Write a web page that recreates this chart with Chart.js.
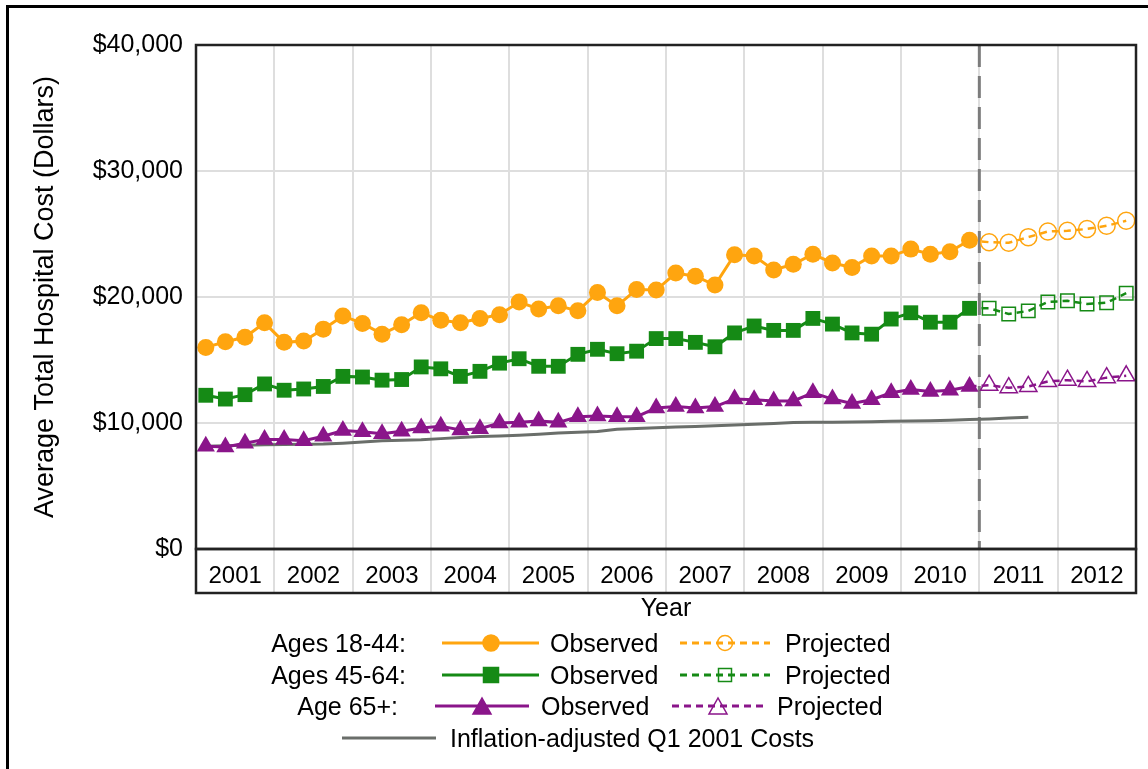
<!DOCTYPE html>
<html>
<head>
<meta charset="utf-8">
<script src="https://cdn.jsdelivr.net/npm/chart.js@4.4.0/dist/chart.umd.min.js"></script>
<style>
  html, body { margin: 0; padding: 0; background: #fff; }
  body { width: 1148px; height: 769px; position: relative; overflow: hidden; font-family: "Liberation Sans", Arial, sans-serif; }
  #frame { position: absolute; left: 6px; top: 5px; width: 1300px; height: 900px; border-left: 3px solid #000; border-top: 3px solid #000; }
  #chart { position: absolute; left: 0; top: 0; }
  .lg { position: absolute; font-size: 25px; line-height: 30px; color: #000; white-space: nowrap; }
  .sample { position: absolute; }
</style>
</head>
<body>
<div id="frame"></div>
<canvas id="chart" width="1148" height="769"></canvas>
<div id="legend"></div>
<script>
document.addEventListener("DOMContentLoaded", function() {

    // Categories and tick labels
    var years = ['2001', '2002', '2003', '2004', '2005', '2006', '2007', '2008', '2009', '2010', '2011', '2012'];
    var yTickLabels = ['$0', '$10,000', '$20,000', '$30,000', '$40,000'];

    // Quarterly averages, Q1 2001 - Q4 2010 (observed)
    var ages1844Observed = [16000, 16450, 16800, 17950, 16400, 16500, 17450, 18500, 17900, 17050,
        17800, 18750, 18150, 17950, 18300, 18600, 19600, 19050, 19300, 18900,
        20350, 19300, 20600, 20550, 21900, 21650, 20950, 23350, 23250, 22150,
        22600, 23400, 22700, 22350, 23250, 23250, 23800, 23400, 23600, 24500];
    var ages4564Observed = [12200, 11900, 12250, 13100, 12600, 12700, 12900, 13700, 13650, 13400,
        13450, 14450, 14300, 13700, 14100, 14750, 15100, 14500, 14500, 15450,
        15850, 15500, 15700, 16700, 16700, 16400, 16050, 17150, 17700, 17350,
        17350, 18300, 17850, 17150, 17050, 18250, 18750, 18000, 18000, 19100];
    var age65Observed = [8150, 8100, 8400, 8700, 8700, 8600, 8950, 9400, 9300, 9150,
        9350, 9600, 9750, 9450, 9550, 10000, 10050, 10150, 10050, 10500,
        10550, 10500, 10500, 11200, 11300, 11200, 11300, 11900, 11850, 11750,
        11750, 12400, 11900, 11550, 11850, 12400, 12650, 12500, 12600, 12900];

    // Q1 2011 - Q4 2012 (projected)
    var ages1844Projected = [24350, 24300, 24750, 25200, 25250, 25400, 25650, 26050];
    var ages4564Projected = [19100, 18650, 18900, 19600, 19700, 19450, 19550, 20300];
    var age65Projected = [13000, 12800, 12900, 13300, 13400, 13300, 13600, 13750];

    // Q1 2001 - Q3 2011
    var inflationAdjusted = [8150, 8200, 8230, 8280, 8300, 8310, 8330, 8400, 8500, 8600,
        8640, 8680, 8760, 8840, 8920, 8960, 9020, 9100, 9200, 9260,
        9330, 9500, 9560, 9620, 9680, 9720, 9780, 9850, 9900, 9960,
        10030, 10050, 10060, 10070, 10100, 10130, 10150, 10180, 10220, 10270,
        10320, 10390, 10450];

    var orange = '#ffa50f', green = '#158a15', purple = '#8a158a', grey = '#6a6e6a';
    var gridColor = '#dedede';
    var split = ages1844Observed.length;   // first projected quarter

    // quarter index -> point in the middle of its quarter
    function points(vals, start) {
        return vals.map(function(v, i) { return { x: start + i + 0.5, y: v }; });
    }
    // projected line starts from the last observed quarter
    function projected(obs, proj) {
        return points([obs[obs.length - 1]].concat(proj), obs.length - 1);
    }
    function hideFirst(r) {
        return function(c) { return c.dataIndex === 0 ? 0 : r; };
    }

    var framePlugin = {
        id: 'frame',
        beforeDatasetsDraw: function(chart) {
            var ctx = chart.ctx, a = chart.chartArea;
            var x = chart.scales.x.getPixelForValue(split);
            ctx.save();
            ctx.strokeStyle = '#7c7c7c';
            ctx.lineWidth = 3;
            ctx.setLineDash([22, 9]);
            ctx.beginPath();
            ctx.moveTo(x, a.top);
            ctx.lineTo(x, a.bottom);
            ctx.stroke();
            ctx.restore();
        },
        afterDraw: function(chart) {
            var ctx = chart.ctx, a = chart.chartArea;
            ctx.save();
            ctx.strokeStyle = '#222';
            ctx.lineWidth = 2.5;
            ctx.strokeRect(a.left, a.top, a.right - a.left, a.bottom - a.top);
            ctx.strokeRect(a.left, a.bottom, a.right - a.left, 44);
            ctx.restore();
        }
    };

    var ctx = document.getElementById('chart').getContext('2d');
    var myChart = new Chart(ctx, {
        type: 'line',
        data: {
            datasets: [
                { data: points(ages1844Observed, 0), borderColor: orange, backgroundColor: orange, borderWidth: 3, pointStyle: 'circle', pointRadius: 8.5, pointBorderWidth: 0 },
                { data: projected(ages1844Observed, ages1844Projected), borderColor: orange, backgroundColor: 'rgba(0,0,0,0)', borderWidth: 2.5, borderDash: [7, 5], pointStyle: 'circle', pointRadius: hideFirst(8.5), pointBorderWidth: 1.5 },
                { data: points(ages4564Observed, 0), borderColor: green, backgroundColor: green, borderWidth: 3, pointStyle: 'rect', pointRadius: 10.5, pointBorderWidth: 0 },
                { data: projected(ages4564Observed, ages4564Projected), borderColor: green, backgroundColor: 'rgba(0,0,0,0)', borderWidth: 2.5, borderDash: [7, 5], pointStyle: 'rect', pointRadius: hideFirst(9.5), pointBorderWidth: 1.5 },
                { data: points(age65Observed, 0), borderColor: purple, backgroundColor: purple, borderWidth: 3, pointStyle: 'triangle', pointRadius: 10.5, pointBorderWidth: 0 },
                { data: projected(age65Observed, age65Projected), borderColor: purple, backgroundColor: 'rgba(0,0,0,0)', borderWidth: 2.5, borderDash: [7, 5], pointStyle: 'triangle', pointRadius: hideFirst(10), pointBorderWidth: 1.5 },
                { data: points(inflationAdjusted, 0), borderColor: grey, borderWidth: 3, pointRadius: 0 }
            ]
        },
        options: {
            responsive: false,
            animation: false,
            layout: { padding: { left: 0, right: 12, top: 45, bottom: 140 } },
            plugins: { legend: { display: false }, tooltip: { enabled: false } },
            scales: {
                x: {
                    type: 'linear',
                    min: 0,
                    max: years.length * 4,
                    border: { display: false },
                    grid: {
                        color: function(c) { return c.tick && c.tick.value % 4 === 0 ? gridColor : 'rgba(0,0,0,0)'; },
                        tickColor: function(c) { return c.tick && c.tick.value % 4 === 0 ? gridColor : 'rgba(0,0,0,0)'; },
                        lineWidth: 2,
                        tickWidth: 2,
                        tickLength: 44
                    },
                    ticks: {
                        stepSize: 2,
                        autoSkip: false,
                        maxRotation: 0,
                        padding: -31,
                        color: '#000',
                        font: { family: 'Liberation Sans', size: 24 },
                        callback: function(v) { return v % 4 === 2 ? years[(v - 2) / 4] : ''; }
                    },
                    title: {
                        display: true,
                        text: 'Year',
                        color: '#000',
                        font: { family: 'Liberation Sans', size: 25 },
                        padding: { top: 0, bottom: 5 }
                    },
                    afterFit: function(scale) { scale.height = 80; }
                },
                y: {
                    min: 0,
                    max: 40000,
                    border: { display: false },
                    grid: { color: gridColor, lineWidth: 2, drawTicks: false },
                    ticks: {
                        stepSize: 10000,
                        padding: 13,
                        color: '#000',
                        font: { family: 'Liberation Sans', size: 25 },
                        callback: function(v) { return yTickLabels[v / 10000]; }
                    },
                    title: {
                        display: true,
                        text: 'Average Total Hospital Cost (Dollars)',
                        color: '#000',
                        font: { family: 'Liberation Sans', size: 27 },
                        padding: { top: 29, bottom: 0 }
                    },
                    afterFit: function(scale) { scale.width = 196; }
                }
            }
        },
        plugins: [framePlugin]
    });

    // Legend, laid out like the original figure
    var legend = document.getElementById('legend');
    function text(str, cy, left, rightEdge) {
        var d = document.createElement('div');
        d.className = 'lg';
        d.textContent = str;
        d.style.top = (cy - 15) + 'px';
        if (rightEdge) { d.style.left = '0px'; d.style.width = rightEdge + 'px'; d.style.textAlign = 'right'; }
        else d.style.left = left + 'px';
        legend.appendChild(d);
    }
    function marker(shape, color, filled, cx) {
        var fill = filled ? color : 'none';
        if (shape === 'circle') return '<circle cx="' + cx + '" cy="11" r="' + (filled ? 8 : 7.5) + '" fill="' + fill + '" stroke="' + color + '" stroke-width="1.5"/>';
        if (shape === 'rect') { var s = filled ? 7.5 : 6.5; return '<rect x="' + (cx - s) + '" y="' + (11 - s) + '" width="' + 2 * s + '" height="' + 2 * s + '" fill="' + fill + '" stroke="' + color + '" stroke-width="1.5"/>'; }
        if (shape === 'triangle') return '<polygon points="' + (cx - 9) + ',19 ' + (cx + 9) + ',19 ' + cx + ',3" fill="' + fill + '" stroke="' + color + '" stroke-width="1.5"/>';
        return '';
    }
    function sample(cy, x1, x2, color, dashed, shape, filled) {
        var w = x2 - x1, mid = Math.round(w / 2);
        var s = '<svg class="sample" width="' + w + '" height="22" style="left:' + x1 + 'px;top:' + (cy - 11) + 'px">' +
            '<line x1="0" y1="11" x2="' + w + '" y2="11" stroke="' + color + '" stroke-width="3"' + (dashed ? ' stroke-dasharray="7,5"' : '') + '/>' +
            marker(shape, color, filled, mid) + '</svg>';
        legend.insertAdjacentHTML('beforeend', s);
    }

    var rows = [
        { label: 'Ages 18-44:', color: orange, shape: 'circle', cy: 643, labelRight: 406, obs: [442, 539, 550], proj: [680, 770, 785] },
        { label: 'Ages 45-64:', color: green, shape: 'rect', cy: 675, labelRight: 406, obs: [442, 539, 550], proj: [680, 770, 785] },
        { label: 'Age 65+:', color: purple, shape: 'triangle', cy: 706, labelRight: 398, obs: [435, 529, 541], proj: [672, 764, 777] }
    ];
    rows.forEach(function(r) {
        text(r.label, r.cy, 0, r.labelRight);
        sample(r.cy, r.obs[0], r.obs[1], r.color, false, r.shape, true);
        text('Observed', r.cy, r.obs[2]);
        sample(r.cy, r.proj[0], r.proj[1], r.color, true, r.shape, false);
        text('Projected', r.cy, r.proj[2]);
    });
    sample(738, 342, 436, grey, false, null, false);
    text('Inflation-adjusted Q1 2001 Costs', 738, 450);
});
</script>
</body>
</html>
